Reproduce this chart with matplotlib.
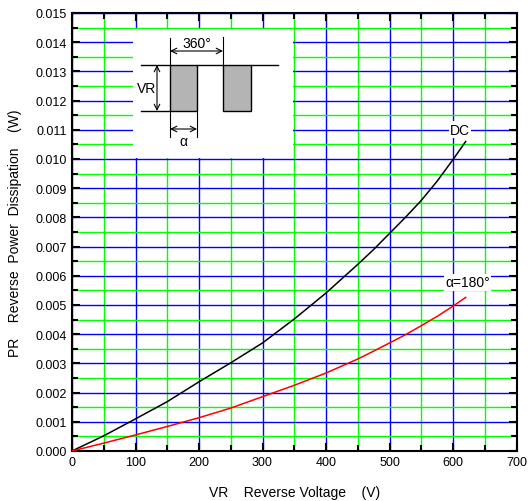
import matplotlib
matplotlib.use("Agg")
from matplotlib import pyplot as plt, ticker
from matplotlib.patches import Rectangle

plt.rcParams["font.family"] = ["Liberation Sans", "DejaVu Sans"]

# 反向电压 (V)
voltage = [0, 50, 100, 150, 200, 250, 300, 350, 400, 450, 475, 500, 525, 550, 575, 600, 620]
# DC 曲线功耗 (W)
power_dc = [0, 0.00052, 0.00110, 0.00169, 0.00237, 0.00302, 0.00370, 0.00452,
            0.00541, 0.00639, 0.00690, 0.00745, 0.00800, 0.00858, 0.00924, 0.00998, 0.01060]
# alpha=180° 曲线功耗 (W)
power_180 = [0, 0.00027, 0.00055, 0.00084, 0.00114, 0.00147, 0.00186, 0.00225,
             0.00267, 0.00315, 0.00342, 0.00370, 0.00398, 0.00429, 0.00461, 0.00496, 0.00526]

W, H = 531, 502
fig = plt.figure(figsize=(W / 100, H / 100), dpi=100)
# 主坐标轴,按像素位置放置
ax = fig.add_axes([72 / W, 1 - 452 / H, (516.5 - 72) / W, (452 - 14) / H])

ax.plot(voltage, power_dc, color="black", lw=1.1, zorder=3)
ax.plot(voltage, power_180, color="red", lw=1.1, zorder=3)

ax.set_xlim(0, 700)
ax.set_ylim(0, 0.015)
ax.xaxis.set_major_locator(ticker.MultipleLocator(100))
ax.xaxis.set_minor_locator(ticker.MultipleLocator(50))
ax.yaxis.set_major_locator(ticker.MultipleLocator(0.001))
ax.yaxis.set_minor_locator(ticker.MultipleLocator(0.0005))
ax.yaxis.set_major_formatter(ticker.FormatStrFormatter("%.3f"))

# 网格线: 主网格蓝色, 次网格绿色
ax.grid(which="major", color="#0000ff", lw=1.0)
ax.grid(which="minor", color="#00ff00", lw=1.0)
ax.set_axisbelow(True)

ax.tick_params(which="both", direction="in", top=True, right=True, width=1.5, labelsize=9)
ax.tick_params(which="major", length=6)
ax.tick_params(which="minor", length=4)
for s in ax.spines.values():
    s.set_linewidth(1.5)

ax.set_xlabel("VR    Reverse Voltage    (V)", fontsize=10, labelpad=12)
ax.set_ylabel("PR    Reverse  Power  Dissipation    (W)", fontsize=10, labelpad=10)

# 曲线标注
ax.text(611, 0.0110, "DC", fontsize=10, ha="center", va="center", zorder=4,
        bbox=dict(facecolor="white", edgecolor="none", pad=1))
ax.text(623, 0.00578, "α=180°", fontsize=10, ha="center", va="center", zorder=4,
        bbox=dict(facecolor="white", edgecolor="none", pad=1))

# 插图: 波形示意图 (坐标为图片像素)
ins = fig.add_axes([133 / W, 1 - 159 / H, (293 - 133) / W, (159 - 30) / H])
ins.set_xlim(133, 293)
ins.set_ylim(159, 30)
ins.set_facecolor("white")
ins.set_xticks([])
ins.set_yticks([])
for s in ins.spines.values():
    s.set_visible(False)

top, bot = 66, 112
pulses = [(170, 197), (223, 251)]
for x0, x1 in pulses:
    ins.add_patch(Rectangle((x0, top), x1 - x0, bot - top, facecolor="#b4b4b4",
                            edgecolor="black", lw=1.0))
ins.plot([141, 170], [top, top], color="black", lw=1.0)
ins.plot([141, 170], [bot, bot], color="black", lw=1.0)
ins.plot([197, 223], [top, top], color="black", lw=1.0)
ins.plot([251, 278], [top, top], color="black", lw=1.0)

arrow = dict(arrowstyle="<->", color="black", lw=0.8, shrinkA=0, shrinkB=0)
# VR
ins.annotate("", xy=(157, top), xytext=(157, bot), arrowprops=arrow)
ins.text(137, 89, "VR", fontsize=10, ha="left", va="center")
# 360°
ins.plot([170, 170], [39, top], color="black", lw=0.8)
ins.plot([223, 223], [38, top], color="black", lw=0.8)
ins.annotate("", xy=(170, 52), xytext=(223, 52), arrowprops=arrow)
ins.text(197, 44, "360°", fontsize=10, ha="center", va="center")
# alpha
ins.plot([170, 170], [bot, 138], color="black", lw=0.8)
ins.plot([197, 197], [bot, 138], color="black", lw=0.8)
ins.annotate("", xy=(170, 130), xytext=(197, 130), arrowprops=arrow)
ins.text(183, 142, "α", fontsize=10, ha="center", va="center")

fig.savefig("out.png", dpi=100)
